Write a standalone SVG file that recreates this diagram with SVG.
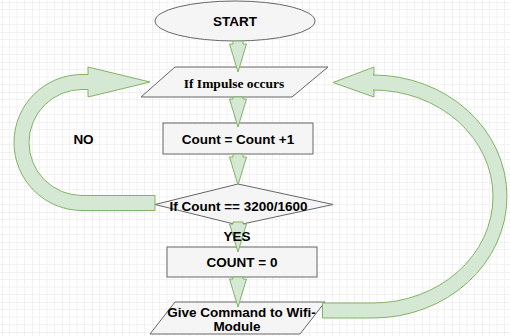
<svg xmlns="http://www.w3.org/2000/svg" width="510" height="336" viewBox="0 0 510 336">
<defs>
<pattern id="grid" x="2" y="2" width="30" height="30" patternUnits="userSpaceOnUse">
<path d="M7.5 0V30M15 0V30M22.5 0V30M0 7.5H30M0 15H30M0 22.5H30" stroke="#f2f2f2" stroke-width="1" fill="none"/>
<path d="M0 0V30M0 0H30" stroke="#e4e4e4" stroke-width="1" fill="none"/>
</pattern>
</defs>
<style>
.node{fill:#f5f5f5;stroke:#666666;stroke-width:1}
.flow{fill:#d5e8d4;stroke:#82b366;stroke-width:1;stroke-linejoin:miter}
.t{font-family:"Liberation Sans",Arial,sans-serif;font-weight:bold;font-size:13.5px;fill:#000;text-anchor:middle}
.ts{font-family:"Liberation Serif","Times New Roman",serif;font-weight:bold;font-size:13.5px;fill:#000;text-anchor:middle}
</style>
<rect width="510" height="336" fill="#ffffff"/>
<rect width="510" height="336" fill="url(#grid)"/>

<g id="start">
<ellipse class="node" cx="235" cy="21" rx="80" ry="20"/>
<text class="t" x="235" y="25.5">START</text>
</g>
<g id="impulse">
<polygon class="node" points="175,67 328,67 292,97 141,97"/>
<text class="ts" x="234" y="87.5">If Impulse occurs</text>
</g>
<g id="increment">
<rect class="node" x="163" y="123" width="150" height="31"/>
<text class="t" x="238" y="143.5">Count = Count +1</text>
</g>
<g id="decision">
<polygon class="node" points="238,184 333,204.5 238,225 155,204.5"/>
<text class="t" x="238.5" y="210.5">If Count == 3200/1600</text>
</g>
<g id="reset">
<rect class="node" x="167" y="247" width="150" height="30"/>
<text class="t" x="242" y="267">COUNT = 0</text>
</g>
<g id="command">
<polygon class="node" points="175,302 325,302 300,334 150,334"/>
<text class="t" x="241.5" y="316.5">Give Command to Wifi-</text>
<text class="t" x="237" y="330.5">Module</text>
</g>

<g id="connectors">
<path class="flow" d="M233 41V44H229.5L238 72L246.5 44H243V41Z"/>
<path class="flow" d="M233 97V99H229.5L238 127L246.5 99H243V97Z"/>
<path class="flow" d="M233 154V157H229.5L238 185L246.5 157H243V154Z"/>
<path class="flow" d="M233 222V224H229.5L238 252L246.5 224H243V222Z"/>
<path class="flow" d="M233 277V279H229.5L238 307L246.5 279H243V277Z"/>
<path class="flow" d="M150 82L88 67V74.5H82A68 68 0 0 0 82 210.5H155V195.5H82A53 53 0 0 1 82 89.5H88V97Z"/>
<path class="flow" d="M333 82.5L374 67V75H373A134 121.5 0 0 1 373 318H322.5V303H373A120 106.5 0 0 0 373 90H374V97Z"/>
<text class="t" x="237" y="241">YES</text>
<text class="t" x="83.5" y="143.5">NO</text>
</g>
</svg>
